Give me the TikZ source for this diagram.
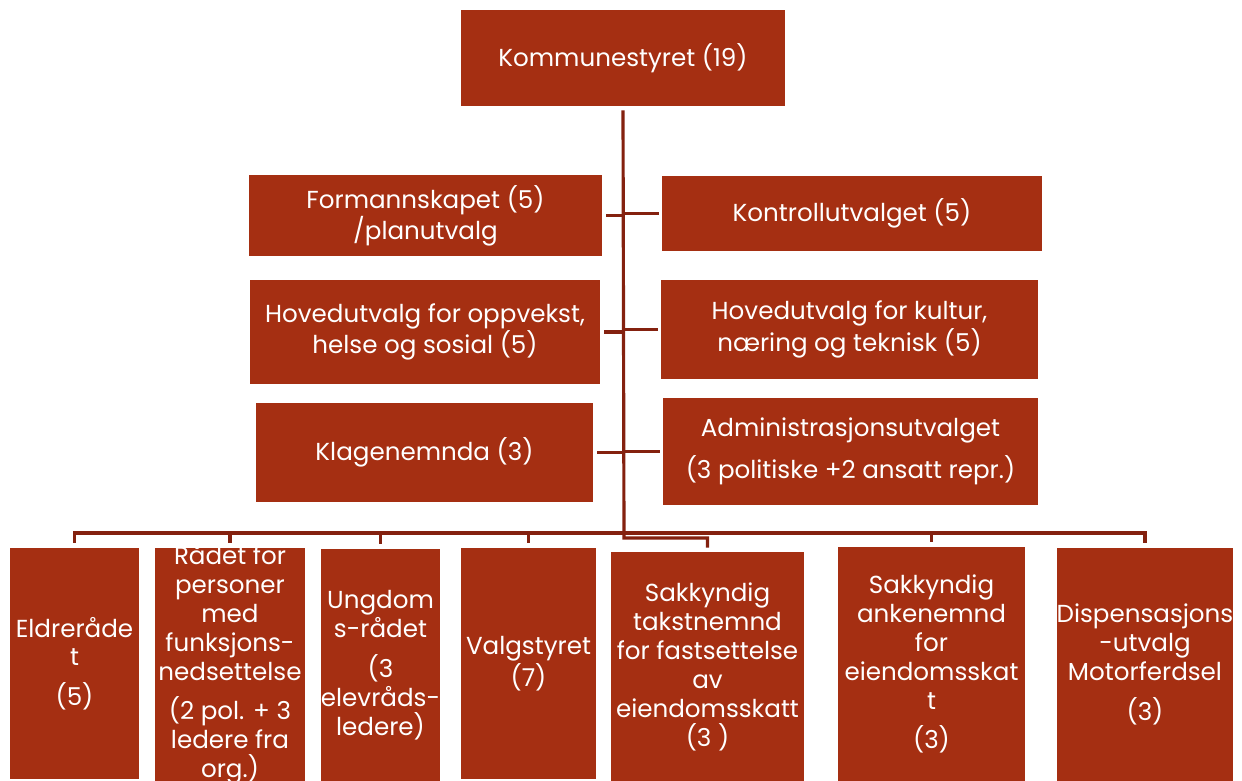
\documentclass[tikz,border=0pt]{standalone}
\usepackage{fontspec}
\setmainfont{Poppins}
\usepackage{xcolor}
\usepackage{tikz}
\definecolor{boxred}{HTML}{A52F12}
\definecolor{linered}{HTML}{84210F}

\begin{document}
\begin{tikzpicture}[x=0.02cm, y=-0.02cm,
	box/.style={fill=boxred, text=white, align=center, inner sep=0pt, font=\fontsize{14}{16.5}\selectfont},
	link/.style={linered, line width=1.8pt}]
	\useasboundingbox (0,0) rectangle (1242,781);
	
	\node[box, minimum width=6.48cm, minimum height=1.92cm] (styre) at (623,58) {Kommunestyret (19)};
	
	\node[box, minimum width=7.06cm, minimum height=1.62cm] (formann) at (425.5,215.5) {Formannskapet (5)\\/planutvalg};
	\node[box, minimum width=7.6cm, minimum height=1.5cm] (kontroll) at (852,213.5) {Kontrollutvalget (5)};
	\node[box, minimum width=7cm, minimum height=2.08cm] (hoved1) at (425,332) {Hovedutvalg for oppvekst,\\helse og sosial (5)};
	\node[box, minimum width=7.54cm, minimum height=1.98cm] (hoved2) at (849.5,329.5) {Hovedutvalg for kultur,\\næring og teknisk (5)};
	\node[box, minimum width=6.74cm, minimum height=1.98cm] (klage) at (424.5,452.5) {Klagenemnda (3)};
	\node[box, minimum width=7.5cm, minimum height=2.14cm] (admin) at (850.5,451.5) {Administrasjonsutvalget\\[6pt](3 politiske +2 ansatt repr.)};
	
	\node[box, minimum width=2.58cm, minimum height=4.62cm] (eldre) at (74.5,663.5) {Eldreråde\\t\\[6pt](5)};
	\node[box, minimum width=3cm, minimum height=4.66cm] (raad) at (230,664.5) {};
	\begin{scope}
		\clip (raad.north west) rectangle (raad.south east);
		\node[box, fill=none] at (raad.center) {Rådet for\\personer\\med\\funksjons-\\nedsettelse\\[6pt](2 pol. + 3\\ledere fra\\org.)};
	\end{scope}
	\node[box, minimum width=2.38cm, minimum height=4.64cm] (ungdom) at (380.5,665) {Ungdom\\s-rådet\\[6pt](3\\elevråds-\\ledere)};
	\node[box, minimum width=2.7cm, minimum height=4.62cm] (valg) at (528.5,663.5) {Valgstyret\\(7)};
	\node[box, minimum width=3.86cm, minimum height=4.58cm] (takst) at (707.5,666.5) {Sakkyndig\\takstnemnd\\for fastsettelse\\av\\eiendomsskatt\\(3 )};
	\node[box, minimum width=3.74cm, minimum height=4.68cm] (anke) at (931.5,664) {Sakkyndig\\ankenemnd\\for\\eiendomsskat\\t\\[6pt](3)};
	\node[box, minimum width=3.52cm, minimum height=4.66cm] (disp) at (1145,664.5) {Dispensasjons\\-utvalg\\Motorferdsel\\[6pt](3)};
	
	\coordinate (bar) at (624,533);
	\coordinate (knee) at (624,538);
	
	\draw[link, shorten <=0.08cm, shorten >=0.08cm] (styre.south) -- (knee) -| (takst.north);
	\foreach \n in {formann,hoved1,klage}
		\draw[link, shorten <=0.08cm] (\n.east) -- (\n.east -| styre.south);
	\foreach \n in {kontroll,hoved2,admin}
		\draw[link, shorten <=0.06cm] (\n.west) -- (\n.west -| styre.south);
	
	\draw[link, shorten <=0.1cm, shorten >=0.1cm] (eldre.north) |- (bar) -| (disp.north);
	\foreach \n in {raad,ungdom,valg,anke}
		\draw[link, shorten <=0.1cm] (\n.north) -- (\n.north |- bar);
\end{tikzpicture}
\end{document}
